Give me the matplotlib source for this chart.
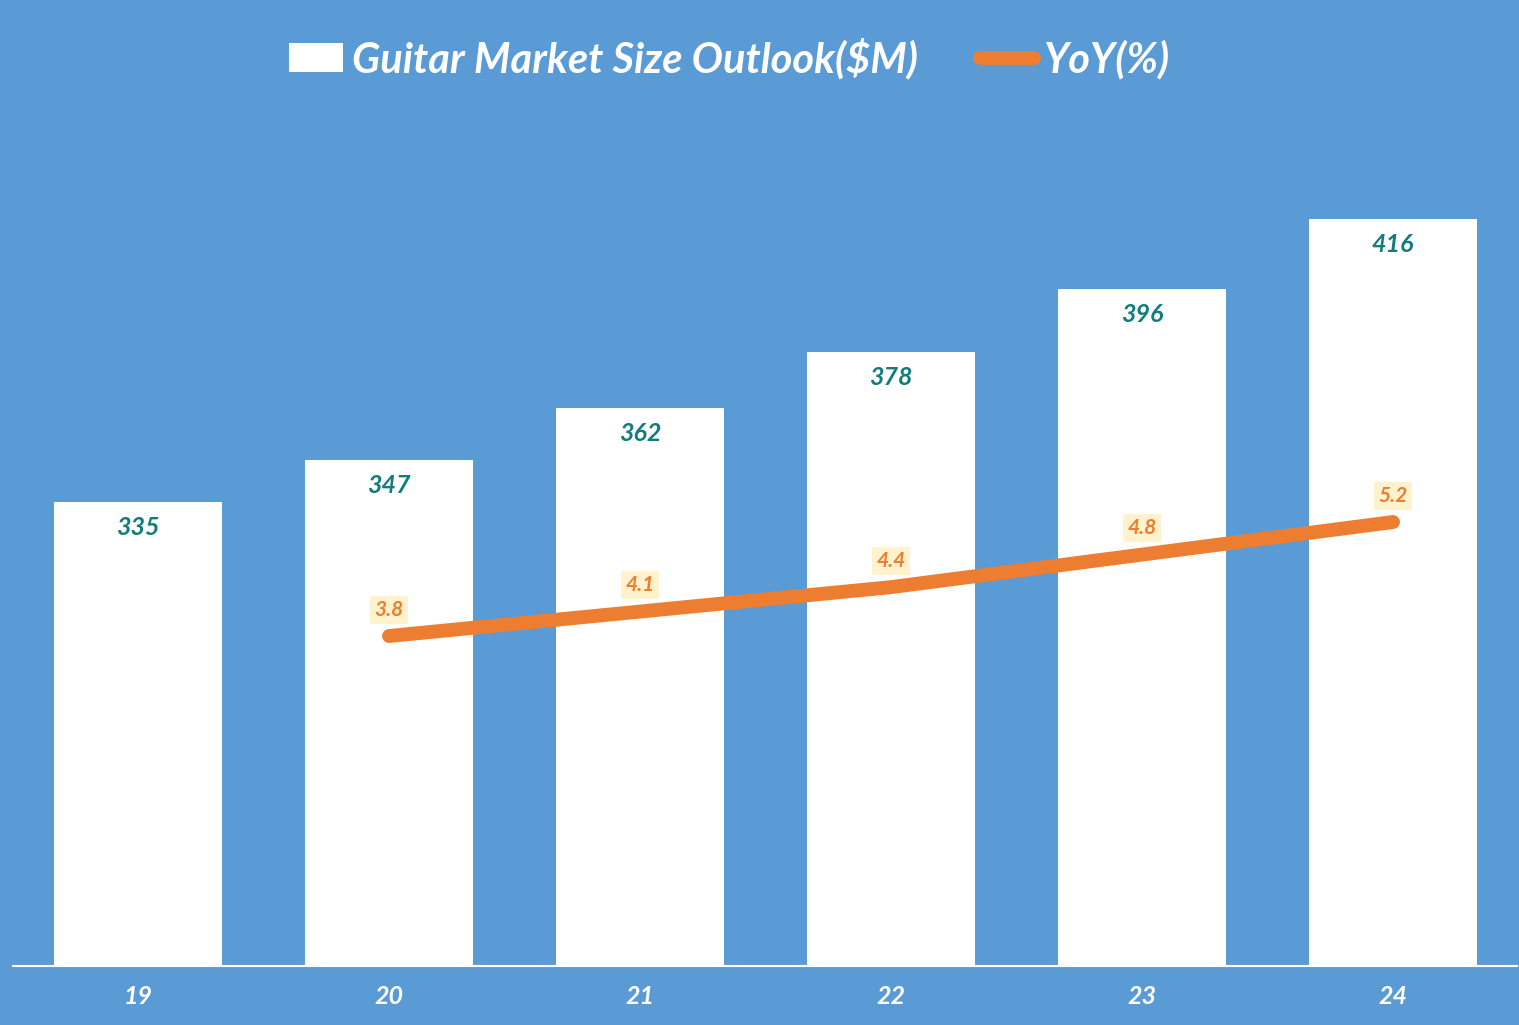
import matplotlib
matplotlib.use("Agg")
from matplotlib import pyplot as plt
from matplotlib.patches import Patch
from matplotlib.lines import Line2D

years = ["19", "20", "21", "22", "23", "24"]
market = [335, 347, 362, 378, 396, 416]
yoy_years = [1, 2, 3, 4, 5]
yoy = [3.8, 4.1, 4.4, 4.8, 5.2]

bg = "#5B9BD5"
orange = "#ED7D31"
teal = "#137C7C"
plt.rcParams['font.family'] = ['Lato', 'DejaVu Sans']

fig = plt.figure(figsize=(15.19, 10.25), dpi=100, facecolor=bg)
ax = fig.add_axes([13/1519, 59/1025, 1504/1519, 886/1025])
ax.set_facecolor(bg)
x = list(range(len(years)))
ax.bar(x, market, width=0.67, color="white", zorder=2)
ax.set_xlim(-0.498, 5.494)
ax.set_ylim(202.2, 455.8)
for i, v in zip(x, market):
    ax.text(i, v - 4, str(v), ha="center", va="top", color=teal,
            fontsize=18, fontweight="bold", style="italic", zorder=5)
ax.set_xticks(x)
ax.set_xticklabels(years, color="white", fontsize=18, fontweight="bold", style="italic")
ax.tick_params(axis="x", length=0, pad=14)
ax.set_yticks([])
for s in ["top", "left", "right"]:
    ax.spines[s].set_visible(False)
ax.spines["bottom"].set_color("white")
ax.spines["bottom"].set_linewidth(1.5)

ax2 = ax.twinx()
ax2.set_ylim(-0.254, 10.63)
ax2.plot(yoy_years, yoy, color=orange, linewidth=10, solid_capstyle="round", zorder=3)
for i, v in zip(yoy_years, yoy):
    ax2.text(i, v + 0.2, f"{v}", ha="center", va="bottom", color=orange,
             fontsize=15, fontweight="bold", style="italic",
             bbox=dict(facecolor="#FFF2CC", edgecolor="none", pad=3))
ax2.set_yticks([])
for s in ax2.spines.values():
    s.set_visible(False)

handles = [Patch(facecolor="white", edgecolor="none"),
           Line2D([0], [0], color=orange, linewidth=10, solid_capstyle="round")]
fig.legend(handles, ["Guitar Market Size Outlook($M)", "YoY(%)"], loc="upper center",
           bbox_to_anchor=(0.48, 1.0), ncol=2, frameon=False, handlelength=1.3,
           handletextpad=0.2, columnspacing=1.5,
           prop=dict(size=30, weight="bold", style="italic"), labelcolor="white")

fig.savefig("out.png", dpi=100, facecolor=bg)
